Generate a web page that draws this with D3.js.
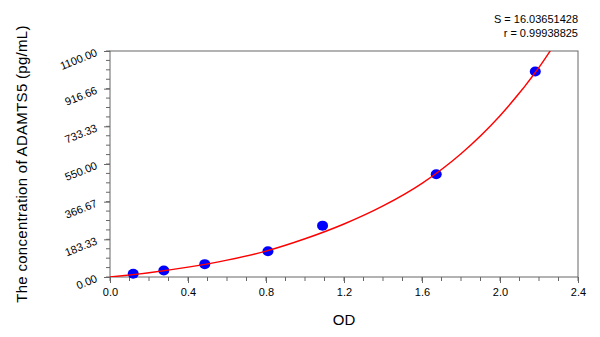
<!DOCTYPE html>
<html>
<head>
<meta charset="utf-8">
<script src="https://cdn.jsdelivr.net/npm/d3@7"></script>
<style>
  body { margin: 0; background: #fff; }
  text { font-family: "Liberation Sans", Arial, sans-serif; fill: #000; }
</style>
</head>
<body>
<div id="chart"></div>
<script>
// standard points
var od = [0.119, 0.276, 0.486, 0.81, 1.09, 1.673, 2.181];
var conc = [15.625, 31.25, 62.5, 125, 250, 500, 1000];

// fitted curve
var curveOD = [0, 0.2, 0.4, 0.6, 0.8, 1.0, 1.2, 1.4, 1.6, 1.8, 2.0, 2.2, 2.3];
var curveConc = [0, 21, 48, 82, 126, 186, 258, 346, 456, 600, 785, 1020, 1162];

var xTicks = [0, 0.4, 0.8, 1.2, 1.6, 2.0, 2.4];
var xTickLabels = ["0.0", "0.4", "0.8", "1.2", "1.6", "2.0", "2.4"];
var yTicks = [0, 183.33, 366.67, 550, 733.33, 916.66, 1100];
var yTickLabels = ["0.00", "183.33", "366.67", "550.00", "733.33", "916.66", "1100.00"];

var statS = "S = 16.03651428";
var statR = "r = 0.99938825";

var width = 600, height = 337;
var margin = {top: 51, right: 22, bottom: 60, left: 110};
var w = width - margin.left - margin.right,
    h = height - margin.top - margin.bottom;

var svg = d3.select("#chart").append("svg")
  .attr("width", width)
  .attr("height", height);

var g = svg.append("g").attr("transform", "translate(" + margin.left + "," + margin.top + ")");

var x = d3.scaleLinear().domain([0, 2.4]).range([0, w]);
var y = d3.scaleLinear().domain([0, 1100]).range([h, 0]);

svg.append("clipPath").attr("id", "clip")
  .append("rect").attr("width", w).attr("height", h);

// minor ticks
var xMinor = d3.range(0, 25).map(function(i) { return i * 0.1; });
var yMinor = d3.range(0, 25).map(function(i) { return i * 1100 / 24; });

g.selectAll(".xminor").data(xMinor).enter().append("line")
  .attr("x1", function(d) { return x(d); }).attr("x2", function(d) { return x(d); })
  .attr("y1", h).attr("y2", h + 4)
  .attr("stroke", "#666");
g.selectAll(".yminor").data(yMinor).enter().append("line")
  .attr("y1", function(d) { return y(d); }).attr("y2", function(d) { return y(d); })
  .attr("x1", 0).attr("x2", -4)
  .attr("stroke", "#666");

// x axis
var xAxis = d3.axisBottom(x).tickValues(xTicks).tickSize(6).tickPadding(5)
  .tickFormat(function(d, i) { return xTickLabels[i]; });
var gx = g.append("g").attr("transform", "translate(0," + h + ")").call(xAxis);
gx.select(".domain").remove();
gx.selectAll("line").attr("stroke", "#666");
gx.selectAll("text").style("font-size", "11px").attr("fill", "#000");

// y axis
var yAxis = d3.axisLeft(y).tickValues(yTicks).tickSize(6)
  .tickFormat(function(d, i) { return yTickLabels[i]; });
var gy = g.append("g").call(yAxis);
gy.select(".domain").remove();
gy.selectAll("line").attr("stroke", "#666");
gy.selectAll("text")
  .style("font-size", "11px").attr("fill", "#000")
  .attr("x", null).attr("dy", null)
  .attr("text-anchor", "end")
  .attr("transform", "translate(-12,4) rotate(-22)");

// frame
g.append("rect")
  .attr("width", w).attr("height", h)
  .attr("fill", "none").attr("stroke", "#666").attr("stroke-width", 1);

// points
g.selectAll(".pt").data(od).enter().append("ellipse")
  .attr("cx", function(d) { return x(d); })
  .attr("cy", function(d, i) { return y(conc[i]); })
  .attr("rx", 5.5).attr("ry", 5)
  .attr("fill", "#0000ff");

// fit curve, on top of the points
var line = d3.line()
  .curve(d3.curveMonotoneX)
  .x(function(d, i) { return x(curveOD[i]); })
  .y(function(d, i) { return y(curveConc[i]); });

g.append("path")
  .attr("clip-path", "url(#clip)")
  .attr("d", line(curveOD))
  .attr("fill", "none")
  .attr("stroke", "#ff0000")
  .attr("stroke-width", 1.4);

// titles
svg.append("text")
  .attr("x", margin.left + w / 2).attr("y", 325)
  .attr("text-anchor", "middle")
  .style("font-size", "15px")
  .text("OD");

svg.append("text")
  .attr("transform", "translate(27," + (margin.top + h / 2) + ") rotate(-90)")
  .attr("text-anchor", "middle")
  .style("font-size", "15px")
  .style("letter-spacing", "0.3px")
  .text("The concentration of ADAMTS5 (pg/mL)");

svg.append("text")
  .attr("x", margin.left + w).attr("y", 23)
  .attr("text-anchor", "end")
  .style("font-size", "11px")
  .text(statS);
svg.append("text")
  .attr("x", margin.left + w).attr("y", 37)
  .attr("text-anchor", "end")
  .style("font-size", "11px")
  .text(statR);
</script>
</body>
</html>
